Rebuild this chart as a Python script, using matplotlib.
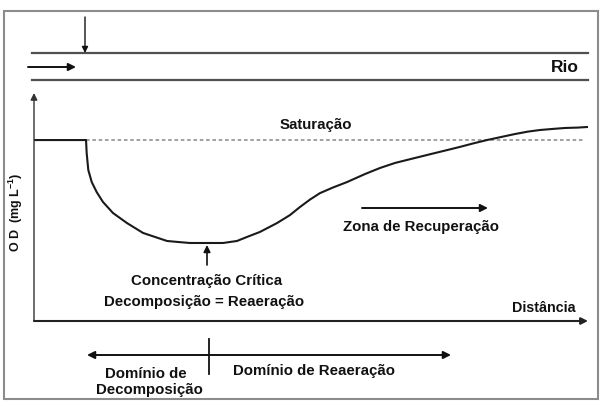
import matplotlib.pyplot as plt
from matplotlib.patches import Rectangle

plt.rcParams['font.family'] = ['Liberation Sans', 'DejaVu Sans']
plt.rcParams['mathtext.fontset'] = 'custom'
plt.rcParams['mathtext.rm'] = 'Liberation Sans'
plt.rcParams['mathtext.bf'] = 'Liberation Sans:bold'

# curva de oxigenio dissolvido ao longo do rio (distancia 0-100, OD em mg/L)
distancia = [0, 9.39, 9.51, 9.80, 10.42, 11.32, 12.45, 14.26, 16.79, 19.68, 21.84,
             24.01, 25.99, 28.16, 34.12, 36.64, 38.45, 40.79, 43.86, 46.21, 48.01,
             49.82, 51.62, 53.97, 56.50, 59.75, 62.45, 65.16, 67.33, 69.68, 72.02,
             74.55, 76.90, 79.24, 81.77, 84.12, 86.82, 89.17, 91.34, 93.50, 95.85,
             98.19, 99.9]
od = [9.0, 9.0, 8.35, 7.51, 6.91, 6.41, 5.92, 5.37, 4.87, 4.38, 4.18,
      3.98, 3.93, 3.88, 3.88, 3.98, 4.18, 4.43, 4.87, 5.27, 5.67,
      6.04, 6.36, 6.64, 6.91, 7.31, 7.61, 7.86, 8.01, 8.17, 8.33,
      8.50, 8.66, 8.83, 9.0, 9.14, 9.30, 9.42, 9.50, 9.55, 9.60,
      9.62, 9.65]
saturacao = 9.0
sat_ini, sat_fim = 9.4, 99.1
od_max = 11.34

fig = plt.figure(figsize=(6.06, 4.01), dpi=100)

# camada de fundo em pixels para moldura, rio e textos
bg = fig.add_axes([0, 0, 1, 1])
bg.set_xlim(0, 606)
bg.set_ylim(401, 0)
bg.axis('off')

bg.add_patch(Rectangle((4, 11), 594, 388, fill=False, ec='#8c8c8c', lw=1.5))

# rio
bg.plot([32, 588], [53, 53], color='#505050', lw=1.6)
bg.plot([32, 588], [80, 80], color='#505050', lw=1.6)
bg.text(565, 67, 'Rio', ha='center', va='center', fontsize=12.5, fontweight='bold', color='#111')
arrow = dict(arrowstyle='-|>', color='#111', lw=1.4, mutation_scale=11, shrinkA=0, shrinkB=0)
bg.annotate('', xy=(76, 67), xytext=(28, 67), arrowprops=arrow)
bg.annotate('', xy=(85, 53), xytext=(85, 17),
            arrowprops=dict(arrowstyle='-|>', color='#111', lw=1.0, mutation_scale=9, shrinkA=0, shrinkB=0))

# grafico OD x distancia
ax = fig.add_axes([34 / 606, (401 - 321) / 401, 554 / 606, 228 / 401])
ax.set_xlim(0, 100)
ax.set_ylim(0, od_max)
ax.axis('off')
ax.patch.set_alpha(0)

ax.annotate('', xy=(0, 1), xytext=(0, 0), xycoords='axes fraction',
            arrowprops=dict(arrowstyle='-|>', color='#333', lw=1.0, mutation_scale=10, shrinkA=0, shrinkB=0))
ax.annotate('', xy=(1, 0), xytext=(0, 0), xycoords='axes fraction',
            arrowprops=dict(arrowstyle='-|>', color='#222', lw=1.5, mutation_scale=10, shrinkA=0, shrinkB=0))

ax.plot([sat_ini, sat_fim], [saturacao, saturacao], color='#9a9a9a', lw=1.3, ls=(0, (2, 1.5)))
ax.plot(distancia, od, color='#1a1a1a', lw=1.5, solid_capstyle='round', solid_joinstyle='round')

# textos do grafico
fs = 10.8
bg.text(316, 125, 'Saturação', ha='center', va='center', fontsize=fs, fontweight='bold', color='#111')
bg.annotate('', xy=(488, 208), xytext=(362, 208), arrowprops=arrow)
bg.text(421, 227, 'Zona de Recuperação', ha='center', va='center', fontsize=fs, fontweight='bold', color='#111')
bg.annotate('', xy=(207, 245), xytext=(207, 265), arrowprops=dict(arrowstyle='-|>', color='#111', lw=1.2, mutation_scale=10, shrinkA=0, shrinkB=0))
bg.text(207, 281, 'Concentração Crítica', ha='center', va='center', fontsize=fs, fontweight='bold', color='#111')
bg.text(204, 302, 'Decomposição = Reaeração', ha='center', va='center', fontsize=fs, fontweight='bold', color='#111')
bg.text(544, 308, 'Distância', ha='center', va='center', fontsize=10.3, fontweight='bold', color='#111')
bg.text(16, 212, r'O D  (mg L$^{\mathbf{-1}}$)', ha='center', va='center', rotation=90,
        fontsize=9, fontweight='bold', color='#111')

# dominios
bg.annotate('', xy=(451, 355), xytext=(87, 355),
            arrowprops=dict(arrowstyle='<|-|>', color='#111', lw=1.4, mutation_scale=11, shrinkA=0, shrinkB=0))
bg.plot([209, 209], [339, 374], color='#111', lw=1.3)
bg.text(146, 374, 'Domínio de', ha='center', va='center', fontsize=fs, fontweight='bold', color='#111')
bg.text(149, 390, 'Decomposição', ha='center', va='center', fontsize=fs, fontweight='bold', color='#111')
bg.text(314, 371, 'Domínio de Reaeração', ha='center', va='center', fontsize=fs, fontweight='bold', color='#111')

fig.savefig('out.png', dpi=100)
